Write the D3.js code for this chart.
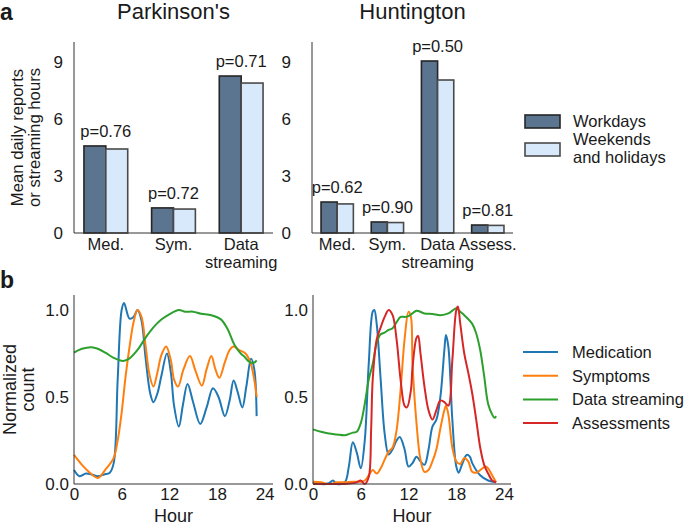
<!DOCTYPE html>
<html><head><meta charset="utf-8">
<script src="https://cdn.jsdelivr.net/npm/d3@7"></script>
<style>
body{margin:0;background:#fff;}
text{font-family:"Liberation Sans",Arial,sans-serif;fill:#1a1a1a;}
</style></head>
<body><svg id="c" width="685" height="525"></svg>
<script>
// ---------- DATA ----------
const pdCategories = ["Med.", "Sym.", "Data\nstreaming"];
const pdWorkdays   = [4.58, 1.32, 8.26];
const pdWeekends   = [4.42, 1.26, 7.89];
const pdPvalues    = ["p=0.76", "p=0.72", "p=0.71"];

const hdCategories = ["Med.", "Sym.", "Data\nstreaming", "Assess."];
const hdWorkdays   = [1.63, 0.58, 9.05, 0.42];
const hdWeekends   = [1.53, 0.55, 8.05, 0.40];
const hdPvalues    = ["p=0.62", "p=0.90", "p=0.50", "p=0.81"];

const barTicks = [0, 3, 6, 9];
const lineYTicks = [0, 0.5, 1.0];
const hourTicks = [0, 6, 12, 18, 24];

const barLegend = ["Workdays", "Weekends\nand holidays"];
const lineLegend = ["Medication", "Symptoms", "Data streaming", "Assessments"];

// Parkinson's hourly curves [hour, normalized count]
const pdMedication = [[0,0.08],[0.7,0.045],[1.5,0.06],[2.2,0.055],[3,0.045],[3.8,0.055],[4.5,0.065],[5,0.12],[5.5,0.6],[6,1.0],[6.3,1.04],[7,0.95],[7.5,0.96],[8,1.0],[8.5,0.94],[9,0.73],[9.6,0.52],[10,0.47],[10.5,0.52],[11,0.62],[11.7,0.75],[12.2,0.64],[12.6,0.45],[13.2,0.33],[13.7,0.45],[14.3,0.575],[15,0.47],[15.9,0.345],[16.7,0.44],[17.5,0.55],[18.2,0.5],[19,0.39],[19.6,0.48],[20.1,0.595],[20.6,0.53],[21.2,0.44],[21.7,0.56],[22.3,0.72],[22.7,0.66],[23,0.39]];
const pdSymptoms = [[0,0.167],[1,0.11],[2,0.065],[3,0.035],[4,0.085],[5,0.15],[5.5,0.25],[6,0.41],[6.5,0.62],[7,0.79],[7.5,0.93],[8,1.0],[8.5,0.96],[9,0.8],[9.5,0.63],[10,0.56],[10.5,0.64],[11,0.74],[11.6,0.79],[12.2,0.71],[12.6,0.6],[13.1,0.56],[13.8,0.66],[14.6,0.735],[15.3,0.65],[16.1,0.565],[16.7,0.66],[17.3,0.735],[17.8,0.66],[18.3,0.61],[19,0.7],[19.6,0.77],[20.1,0.79],[20.8,0.77],[21.6,0.75],[22.2,0.7],[22.7,0.6],[23,0.5]];
const pdStreaming = [[0,0.755],[1,0.777],[2.2,0.786],[3,0.777],[4,0.753],[5,0.725],[6.2,0.707],[7,0.722],[8,0.77],[9,0.84],[10,0.9],[11,0.945],[12,0.975],[13.2,1.0],[14,0.99],[15,0.99],[16,0.978],[17.3,0.97],[18.5,0.946],[19.4,0.885],[20.2,0.8],[21,0.75],[21.5,0.73],[22,0.705],[22.6,0.695],[23,0.71]];

// Huntington hourly curves
const hdMedication = [[0,0.013],[1,0.0],[2,0.004],[2.5,0.02],[3,0.0],[4,0.01],[4.5,0.1],[5,0.24],[5.5,0.18],[6,0.09],[6.5,0.25],[7,0.69],[7.5,0.99],[7.7,1.0],[8,0.92],[8.5,0.6],[9,0.29],[9.5,0.17],[10,0.2],[10.5,0.25],[10.9,0.27],[11.5,0.2],[12,0.1],[12.5,0.12],[13,0.157],[13.5,0.13],[14,0.11],[14.5,0.195],[15,0.33],[15.5,0.37],[16,0.5],[16.5,0.77],[16.7,0.856],[17,0.79],[17.5,0.37],[18,0.1],[18.3,0.065],[18.7,0.11],[19.3,0.167],[19.7,0.157],[20,0.12],[21,0.05],[22,0.02],[23,0.01]];
const hdSymptoms = [[0,0.013],[1,0.01],[2,0.0],[3,0.01],[4,0.01],[5,0.013],[6,0.013],[6.5,0.02],[7,0.05],[7.5,0.08],[8,0.06],[8.5,0.09],[9,0.14],[9.5,0.186],[10,0.21],[10.5,0.31],[11,0.54],[11.5,0.83],[12,0.99],[12.3,0.96],[12.5,0.69],[13,0.35],[13.5,0.14],[14,0.07],[14.5,0.08],[15,0.13],[15.5,0.2],[16,0.32],[16.5,0.425],[16.7,0.45],[17,0.4],[17.5,0.21],[18,0.13],[18.5,0.115],[19,0.15],[19.5,0.13],[20,0.07],[20.5,0.065],[21,0.08],[21.7,0.1],[22,0.09],[22.5,0.05],[23,0.01]];
const hdStreaming = [[0,0.314],[1,0.3],[2,0.29],[3,0.285],[4,0.28],[5,0.295],[5.5,0.3],[6,0.35],[6.5,0.46],[7,0.6],[7.5,0.69],[8,0.81],[8.5,0.86],[9,0.87],[9.5,0.885],[10,0.895],[10.5,0.93],[11,0.96],[11.5,0.96],[12,0.965],[12.5,0.98],[13,0.996],[14,0.98],[15,0.977],[16,0.97],[17,0.98],[17.5,0.996],[18,1.01],[18.5,0.99],[19,0.97],[20,0.92],[20.5,0.865],[21,0.77],[21.5,0.62],[22,0.46],[22.5,0.4],[22.8,0.38],[23,0.39]];
const hdAssessments = [[0,0.0],[1,0.0],[2,0.0],[3,0.0],[4,0.0],[5,0.005],[5.5,0.01],[6,0.02],[6.5,0.0],[7,0.04],[7.3,0.31],[7.5,0.6],[8,0.83],[8.5,0.9],[9,0.96],[9.5,1.0],[10,0.97],[10.5,0.83],[11,0.6],[11.5,0.45],[11.8,0.44],[12.3,0.54],[12.5,0.67],[13,0.84],[13.2,0.85],[13.5,0.75],[14,0.56],[14.5,0.425],[15,0.37],[15.5,0.425],[16,0.48],[16.5,0.47],[17,0.45],[17.5,0.71],[18,1.0],[18.2,1.02],[18.5,0.92],[19,0.75],[19.5,0.64],[20,0.52],[20.5,0.37],[21,0.21],[21.5,0.11],[22,0.06],[22.5,0.02],[23,0.01]];

// ---------- DRAW ----------
const svg = d3.select("#c");
const FONT = 17;
const lineColors = ["#1f77b4", "#ff7f0e", "#2ca02c", "#d62728"];
const workFill = "#5b7490", weekFill = "#d8e9fb";

function styleAxis(g, fs){
  g.select(".domain").attr("stroke", "#333").attr("stroke-width", 1);
  g.selectAll(".tick line").remove();
  g.selectAll(".tick text").attr("font-size", fs || FONT).attr("font-family", '"Liberation Sans",Arial,sans-serif').attr("fill", "#1a1a1a");
}

function barPanel(x0, x1, pIn, pOut, cats, work, week, pv, title, yPad){
  const y = d3.scaleLinear().domain([0, 10.05]).range([233, 42]);
  const x = d3.scaleBand().domain(cats).range([x0, x1]).paddingInner(pIn).paddingOuter(pOut);
  const half = x.bandwidth() / 2;
  const g = svg.append("g");
  cats.forEach((c, i) => {
    g.append("rect").attr("x", x(c)).attr("y", y(work[i])).attr("width", half).attr("height", y(0) - y(work[i]))
      .attr("fill", workFill).attr("stroke", "#262626").attr("stroke-width", 1.6);
    g.append("rect").attr("x", x(c) + half).attr("y", y(week[i])).attr("width", half).attr("height", y(0) - y(week[i]))
      .attr("fill", weekFill).attr("stroke", "#4a4a4a").attr("stroke-width", 1.6);
    g.append("text").attr("x", x(c) + half).attr("y", y(Math.max(work[i], week[i])) - 9)
      .attr("text-anchor", "middle").attr("font-size", 16.5).text(pv[i]);
  });
  const ay = svg.append("g").attr("transform", `translate(${x0},0)`)
    .call(d3.axisLeft(y).tickValues(barTicks).tickSize(0).tickSizeOuter(0).tickPadding(yPad).tickFormat(d3.format("d")));
  styleAxis(ay);
  ay.select(".domain").attr("d", `M0,${y(0)}V42`);
  const ax = svg.append("g").attr("transform", `translate(0,${y(0)})`)
    .call(d3.axisBottom(x).tickSize(0).tickSizeOuter(0).tickPadding(5));
  styleAxis(ax, 16.5);
  ax.select(".domain").attr("d", `M${x0},0H${x1}`);
  ax.selectAll(".tick text").each(function(d){
    const t = d3.select(this); const parts = d.split("\n"); t.text(null);
    parts.forEach((p, k) => t.append("tspan").attr("x", 0).attr("dy", k === 0 ? "0.71em" : "1.08em").text(p));
  });
  svg.append("text").attr("x", (x0 + x1) / 2).attr("y", 19).attr("text-anchor", "middle").attr("font-size", 22).text(title);
}

barPanel(74, 273, 0.353, 0.147, pdCategories, pdWorkdays, pdWeekends, pdPvalues, "Parkinson's", 11);
barPanel(312, 513, 0.356, 0.18, hdCategories, hdWorkdays, hdWeekends, hdPvalues, "Huntington", 21);

svg.append("text").attr("transform", "translate(23,137.5) rotate(-90)").attr("text-anchor", "middle").attr("font-size", 16.7)
  .call(t => { t.append("tspan").attr("x", 0).attr("dy", 0).text("Mean daily reports");
               t.append("tspan").attr("x", 0).attr("dy", "1.0em").text("or streaming hours"); });

svg.append("text").attr("x", 0).attr("y", 20).attr("font-size", 23).attr("font-weight", "bold").text("a");
svg.append("text").attr("x", 0).attr("y", 288).attr("font-size", 23).attr("font-weight", "bold").text("b");

barLegend.forEach((lab, i) => {
  const py = 115 + i * 28;
  svg.append("rect").attr("x", 525).attr("y", py).attr("width", 35).attr("height", 13)
    .attr("fill", i === 0 ? workFill : weekFill).attr("stroke", i === 0 ? "#262626" : "#4a4a4a").attr("stroke-width", 1.6);
  const parts = lab.split("\n");
  const t = svg.append("text").attr("x", 573).attr("y", parts.length > 1 ? py + 2 : py + 12).attr("font-size", 16.5);
  parts.forEach((p, k) => t.append("tspan").attr("x", 573).attr("dy", k === 0 ? 0 : "1.08em").text(p));
});

function linePanel(x0, x1, xmax, series, yPad){
  const x = d3.scaleLinear().domain([0, xmax]).range([x0, x1]);
  const y = d3.scaleLinear().domain([0, 1.086]).range([484, 295]);
  const line = d3.line().x(d => x(d[0])).y(d => y(d[1])).curve(d3.curveCatmullRom.alpha(0.5));
  series.forEach((s, i) => {
    if (!s) return;
    svg.append("path").attr("d", line(s)).attr("fill", "none").attr("stroke", lineColors[i]).attr("stroke-width", 2);
  });
  const ay = svg.append("g").attr("transform", `translate(${x0},0)`)
    .call(d3.axisLeft(y).tickValues(lineYTicks).tickSize(0).tickSizeOuter(0).tickPadding(yPad).tickFormat(d3.format(".1f")));
  styleAxis(ay);
  ay.select(".domain").attr("d", `M0,484V295`);
  const ax = svg.append("g").attr("transform", `translate(0,484)`)
    .call(d3.axisBottom(x).tickValues(hourTicks).tickSize(0).tickSizeOuter(0).tickPadding(4));
  styleAxis(ax);
  ax.select(".domain").attr("d", `M${x0},0H${x1}`);
  svg.append("text").attr("x", (x0 + x1) / 2).attr("y", 522).attr("text-anchor", "middle").attr("font-size", 18).text("Hour");
}

linePanel(74, 273, 25.06, [pdMedication, pdSymptoms, pdStreaming, null], 5);
linePanel(313, 511, 24.87, [hdMedication, hdSymptoms, hdStreaming, hdAssessments], 5);

svg.append("text").attr("transform", "translate(19,389.5) rotate(-90)").attr("text-anchor", "middle").attr("font-size", 18)
  .call(t => { t.append("tspan").attr("x", 0).attr("dy", "-0.15em").text("Normalized");
               t.append("tspan").attr("x", 0).attr("dy", "1.0em").text("count"); });

lineLegend.forEach((lab, i) => {
  const ly = 352 + i * 23.7;
  svg.append("line").attr("x1", 523).attr("x2", 558).attr("y1", ly).attr("y2", ly).attr("stroke", lineColors[i]).attr("stroke-width", 2);
  svg.append("text").attr("x", 572).attr("y", ly + 6).attr("font-size", 16.5).text(lab);
});
</script></body></html>
